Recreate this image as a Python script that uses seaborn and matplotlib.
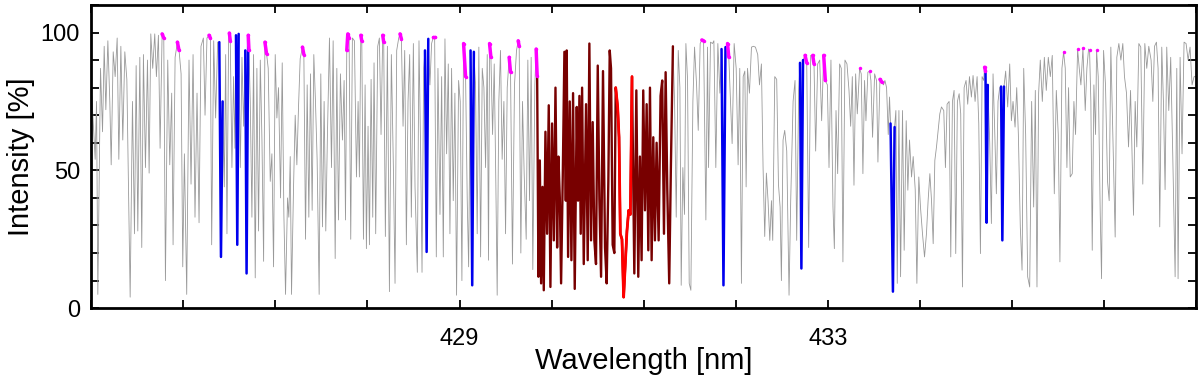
import numpy as np
import pandas as pd
import seaborn as sns
import matplotlib.pyplot as plt
from matplotlib.ticker import FixedLocator, MultipleLocator

# spectrum vertices (nm, %)
wavelength = [
    425.007, 425.043, 425.058, 425.072, 425.101, 425.123, 425.141, 425.159, 425.181, 425.202,
    425.217, 425.239, 425.260, 425.282, 425.300, 425.322, 425.343, 425.365, 425.387, 425.423,
    425.448, 425.470, 425.488, 425.506, 425.528, 425.549, 425.567, 425.589, 425.611, 425.629,
    425.647, 425.668, 425.690, 425.708, 425.730, 425.748, 425.770, 425.788, 425.806, 425.831,
    425.853, 425.874, 425.889, 425.911, 425.936, 425.954, 425.976, 425.994, 426.012,
    426.037, 426.062, 426.084, 426.106, 426.127, 426.149, 426.171, 426.192, 426.218, 426.236,
    426.257, 426.279, 426.294, 426.308, 426.330, 426.351, 426.373, 426.391, 426.409, 426.427,
    426.445, 426.460, 426.474, 426.492, 426.500, 426.510, 426.528, 426.546, 426.561, 426.572,
    426.586, 426.601, 426.619, 426.637, 426.655, 426.673, 426.687, 426.705, 426.713, 426.727,
    426.745, 426.763, 426.781, 426.799, 426.817, 426.836, 426.854, 426.872, 426.886, 426.904,
    426.922, 426.944, 426.962, 426.980, 426.998, 427.016, 427.034, 427.056, 427.074, 427.092,
    427.110,
    427.132, 427.146, 427.161, 427.175, 427.197, 427.215, 427.233, 427.251, 427.269, 427.294,
    427.309, 427.327, 427.345, 427.363, 427.381, 427.399, 427.417, 427.435, 427.453, 427.475,
    427.493, 427.511, 427.529, 427.547, 427.565, 427.587, 427.609, 427.627, 427.649, 427.667,
    427.685, 427.706, 427.728, 427.746, 427.761, 427.775, 427.786, 427.800, 427.818, 427.836,
    427.858, 427.880, 427.898, 427.912, 427.927, 427.938, 427.956, 427.974, 427.988, 428.006,
    428.021, 428.039, 428.057, 428.071, 428.089, 428.111, 428.129, 428.147, 428.165, 428.176,
    428.194,
    428.216, 428.238, 428.259, 428.281, 428.299, 428.317, 428.339, 428.353, 428.368, 428.386,
    428.404, 428.422, 428.440, 428.458, 428.476, 428.498, 428.516, 428.541, 428.559, 428.577,
    428.592, 428.610, 428.624, 428.642, 428.660, 428.678, 428.696, 428.714, 428.729, 428.747,
    428.765, 428.787, 428.805, 428.823, 428.841, 428.859, 428.877, 428.895, 428.913, 428.931,
    428.949, 428.967, 428.989, 429.007, 429.025, 429.043, 429.065, 429.083, 429.098, 429.119,
    429.137, 429.155, 429.173, 429.191, 429.209, 429.228, 429.246, 429.264,
    429.282, 429.300, 429.314, 429.325, 429.340, 429.358, 429.376, 429.394, 429.408, 429.426,
    429.444, 429.462, 429.481, 429.499, 429.517, 429.538, 429.553, 429.574, 429.596, 429.618,
    429.636, 429.647, 429.665, 429.683, 429.701, 429.723, 429.741, 429.759, 429.777, 429.795,
    429.817, 429.831, 429.842,
    429.856, 429.871, 429.885, 429.900, 429.914, 429.932, 429.950, 429.968, 429.986, 430.004,
    430.023, 430.041, 430.059, 430.073, 430.088, 430.102, 430.120, 430.138, 430.153, 430.163,
    430.178, 430.196, 430.214, 430.232, 430.250, 430.272, 430.286, 430.301, 430.315, 430.330,
    430.348, 430.373, 430.391, 430.409, 430.427, 430.445, 430.463, 430.481, 430.500, 430.518,
    430.536, 430.557, 430.579, 430.597, 430.615, 430.630, 430.644, 430.662, 430.680, 430.695,
    430.716, 430.731, 430.745, 430.763, 430.781, 430.799, 430.817, 430.836, 430.854, 430.872,
    430.897, 430.919, 430.940, 430.958, 430.976, 430.994, 431.013, 431.031, 431.049, 431.067,
    431.085, 431.103, 431.121, 431.139, 431.161, 431.182, 431.200, 431.219, 431.237, 431.255,
    431.276, 431.294, 431.316,
    431.334, 431.352, 431.374, 431.392, 431.406, 431.424, 431.442,
    431.457, 431.475, 431.493, 431.511, 431.533, 431.551, 431.573, 431.591, 431.612, 431.630,
    431.649, 431.674, 431.692, 431.703, 431.724, 431.746, 431.761, 431.782, 431.804, 431.826,
    431.844, 431.865, 431.887, 431.909, 431.923, 431.941, 431.959, 431.981, 432.003, 432.024,
    432.042, 432.060, 432.079, 432.097, 432.111, 432.126, 432.147, 432.169, 432.190, 432.212,
    432.237, 432.256, 432.277, 432.295, 432.313, 432.331, 432.349, 432.368, 432.386, 432.400,
    432.422, 432.443, 432.462, 432.480, 432.494, 432.512, 432.530,
    432.552, 432.577, 432.595, 432.621, 432.642, 432.660, 432.682, 432.696, 432.711, 432.729,
    432.751, 432.769, 432.790, 432.812, 432.834, 432.848, 432.866, 432.888, 432.910, 432.931,
    432.953, 432.971, 432.993, 433.011, 433.032, 433.054, 433.069, 433.087, 433.105, 433.126,
    433.144, 433.162, 433.184, 433.206, 433.228, 433.246, 433.264, 433.282, 433.300, 433.318,
    433.343, 433.361, 433.379, 433.397, 433.412, 433.433, 433.452, 433.466, 433.484, 433.506,
    433.527, 433.542, 433.564, 433.585, 433.603,
    433.618, 433.636, 433.654, 433.668, 433.679, 433.705, 433.723, 433.737, 433.752, 433.770,
    433.788, 433.809, 433.827, 433.849, 433.867, 433.885, 433.907, 433.925, 433.947, 433.965,
    433.986, 434.004, 434.026, 434.048, 434.069, 434.087, 434.106, 434.124, 434.142, 434.160,
    434.178, 434.196, 434.214, 434.232, 434.257, 434.275, 434.293, 434.315, 434.333, 434.351,
    434.369, 434.387, 434.405, 434.424, 434.441, 434.460, 434.478, 434.499, 434.517, 434.536,
    434.557, 434.575, 434.597, 434.619, 434.637, 434.655, 434.673, 434.691, 434.700, 434.710,
    434.722, 434.735,
    434.756, 434.774, 434.792, 434.810, 434.828, 434.846, 434.864, 434.879, 434.893, 434.911,
    434.929, 434.951, 434.973, 434.991, 435.009, 435.031, 435.049, 435.067, 435.088, 435.107,
    435.125, 435.146, 435.168, 435.190, 435.211, 435.233, 435.251, 435.269, 435.287, 435.305,
    435.327, 435.349, 435.370, 435.392, 435.414, 435.435, 435.457, 435.479, 435.500, 435.518,
    435.540, 435.558, 435.576, 435.594, 435.612, 435.630, 435.652, 435.670, 435.688, 435.710,
    435.728, 435.746, 435.768,
    435.793, 435.811, 435.829, 435.840, 435.854, 435.869, 435.887, 435.905, 435.916, 435.934,
    435.956, 435.970, 435.992, 436.013, 436.035, 436.053, 436.071, 436.093, 436.118, 436.136,
    436.158, 436.180, 436.201, 436.219, 436.241, 436.263, 436.285, 436.317, 436.335, 436.353,
    436.375, 436.396, 436.418, 436.440, 436.461, 436.483, 436.508, 436.527, 436.545, 436.566,
    436.584, 436.602, 436.624, 436.642, 436.660, 436.678, 436.700, 436.721, 436.743, 436.769,
    436.787, 436.801, 436.823, 436.844, 436.866, 436.888, 436.910, 436.931, 436.953, 436.975,
    436.990,
]
intensity = [
    77, 54, 75, 5, 87, 64, 95, 72, 97, 75,
    52, 93, 84, 98, 54, 95, 61, 93, 83, 4,
    75, 27, 88, 28, 91, 22, 92, 51, 90, 49,
    99.5, 87, 99.5, 84, 99, 58, 99.5, 98, 10, 90,
    52, 78, 23, 91, 96.5, 93.5, 85, 15, 56,
    5, 90, 45, 92, 33, 78, 31, 95, 98, 70,
    98, 99, 98, 23, 97, 69, 96.5, 96.5, 18.6, 75,
    44, 92, 27, 98, 99.8, 97, 51, 84, 58, 99,
    23, 99.5, 51, 91, 66, 93.5, 12.6, 99, 93.5, 75,
    33, 92, 11, 87, 28, 90, 61, 17, 96.5, 92.3,
    87, 46, 56, 15, 92, 69, 80, 40, 89, 34,
    5,
    40, 33, 55, 5, 44, 70, 52, 73, 90.5, 94.7,
    92, 25, 81, 33, 85, 35.5, 92, 75, 54, 5,
    85, 29.5, 75, 28, 63, 98, 51, 97, 18, 87,
    32, 85, 61, 82.6, 32, 93.5, 99.5, 98, 25, 98,
    97, 47.6, 75, 47.6, 99, 97, 25, 81, 21.6, 66,
    23, 83, 33, 89, 27, 95, 98, 63, 99, 96.5,
    26,
    95, 6, 92, 51, 9, 93.5, 98, 99.5, 97.7, 66,
    93.5, 23, 75, 92, 33, 96, 44, 13, 97, 57,
    13, 87, 93.5, 20.4, 97.7, 81, 96, 98.3, 98.3, 18.6,
    87, 34, 84, 18.6, 97.7, 56, 88.6, 27, 87, 39,
    78, 4.7, 82.6, 75, 10, 96, 84, 39, 15, 93.5,
    8.3, 93, 81, 27, 94.7, 18.6, 87, 80,
    51, 92, 17.4, 96, 91, 63, 88.6, 44, 4.7, 75,
    93.5, 54, 75, 27, 80, 91, 85.6, 16, 81, 93.5,
    97, 95, 20, 75, 49, 25, 90, 39, 91, 14,
    81, 94, 84.4,
    11.4, 53.6, 9, 44, 6.5, 64, 27, 73.6, 7.7, 67,
    24.6, 80, 22, 55, 40, 9, 47.6, 93, 39, 93.5,
    18.6, 75, 17.4, 78, 7, 73, 39, 77, 27, 80,
    16, 74, 17.4, 96, 24.6, 67.5, 24.6, 16, 88, 39,
    11.4, 86, 22, 9, 46, 93.5, 87, 23, 20, 80,
    73, 62, 27, 25, 4, 16, 28, 35.5, 34, 84,
    12.6, 79, 11.4, 55, 17.4, 79, 35.5, 74, 21, 80,
    17.4, 62, 24.6, 60, 24.6, 77, 82.6, 27, 85.6, 43,
    9, 51, 95,
    75, 33, 93.5, 80, 8.3, 51, 34,
    96, 83, 9, 6.5, 75, 94.7, 81, 64.5, 96, 97.3,
    97, 32, 94.7, 51, 96.5, 96, 97, 51, 96, 78,
    94, 8.3, 94.7, 96, 91, 75, 59.7, 96, 87, 52,
    87, 9, 84, 86, 44, 87, 78, 94.7, 95, 94.7,
    92, 81, 88.6, 51, 26, 49, 39, 24.6, 39, 24.6,
    84, 83, 45, 36.7, 10, 61, 64.5,
    57, 4.7, 39, 75, 82.6, 24.6, 79, 89, 14.4, 90,
    91.7, 89, 22, 91.7, 91.7, 88.6, 57, 88.6, 90, 68,
    91.7, 82.6, 81, 51, 90, 36.7, 21.6, 71.7, 48.8, 88.6,
    87, 16.8, 90, 88.6, 79, 66, 84, 44.6, 85, 70.5,
    87, 85, 48.8, 82.6, 68, 85.6, 86, 82.6, 62, 85,
    82.6, 53, 83, 82, 81,
    82.6, 80, 63, 76.6, 67, 6, 65.7, 71.7, 9, 71.7,
    11.4, 71.7, 21, 68, 42.8, 61, 47.6, 55, 43, 9,
    47.6, 36.7, 27, 18.6, 27, 39, 48.8, 39, 23.4, 53.6,
    58.5, 64.5, 70.5, 73, 71.7, 51, 74, 75, 18.6, 75,
    79, 19.8, 75, 77.8, 70.5, 7.7, 80, 82.6, 74, 84,
    76.6, 84.4, 75, 84, 67, 19.8, 84, 82.6, 87.4, 86,
    31, 81,
    60, 30.7, 85, 64.5, 41.5, 75, 80, 80.4, 24.6, 80.4,
    86, 73, 88.6, 68, 75, 65.7, 80, 63, 29.5, 13.8,
    87, 63, 11.4, 7.7, 75, 36.7, 79, 7.7, 78, 90,
    75, 91, 79, 91, 84, 91.7, 41.5, 79, 63, 16.8,
    87, 93, 87, 51, 80, 47.6, 48.8, 75, 63, 94,
    87, 81, 94.4,
    71.7, 87, 94, 93.5, 75, 21, 81, 63, 93.5, 84,
    34, 10.7, 93.5, 81, 46, 39, 94.7, 63, 25.8, 91,
    96, 90, 96, 84, 78, 58.5, 79, 33.7, 75, 58.5,
    96, 94.7, 45, 96, 87, 95, 90, 75, 95, 96.5,
    87, 29.5, 94.7, 75, 43, 94.7, 71.7, 91, 56, 11.4,
    87, 10.7, 91, 56, 96.5, 96, 90, 94.7, 81, 84,
    84,
]

# highlighted parts of the spectrum (nm)
gband_range = (429.842, 431.316)
core_range = (430.695, 430.872)
blue_lines = [
    (426.391, 426.427), (426.572, 426.601), (426.673, 426.705),
    (428.624, 428.660), (429.119, 429.155), (431.844, 431.887),
    (432.696, 432.729), (433.679, 433.723), (434.710, 434.735),
    (434.879, 434.911),
]
continuum_points = [
    (425.770, 425.788), (425.936, 425.954), (426.279, 426.294), (426.500, 426.510),
    (426.705, 426.713), (426.886, 426.904), (427.294, 427.309), (427.775, 427.800),
    (427.927, 427.938), (428.165, 428.176), (428.353, 428.368), (428.714, 428.729),
    (429.043, 429.065), (429.325, 429.340), (429.538, 429.553), (429.636, 429.647),
    (429.831, 429.842), (431.630, 431.649), (431.909, 431.923), (432.751, 432.769),
    (432.834, 432.848), (432.953, 432.971), (433.343, 433.343), (433.452, 433.452),
    (433.564, 433.585), (434.700, 434.710), (435.558, 435.558), (435.710, 435.710),
    (435.768, 435.768), (435.840, 435.840), (435.916, 435.916),
]

sns.set_style("ticks")
plt.rcParams['font.family'] = ['Liberation Sans', 'DejaVu Sans']

spec = pd.DataFrame({"wl": wavelength, "I": intensity})


def piece(lo, hi):
    return spec[(spec.wl >= lo - 1e-6) & (spec.wl <= hi + 1e-6)]


fig, ax = plt.subplots(figsize=(12, 3.8), dpi=100)
fig.subplots_adjust(left=0.076, right=0.997, bottom=0.189, top=0.987)

sns.lineplot(data=spec, x="wl", y="I", estimator=None, sort=False,
             color="#999999", lw=0.6, ax=ax)
sns.lineplot(data=piece(*gband_range), x="wl", y="I", estimator=None, sort=False,
             color="#780000", lw=1.7, ax=ax)
sns.lineplot(data=piece(*core_range), x="wl", y="I", estimator=None, sort=False,
             color="#ff0000", lw=2, ax=ax)
for lo, hi in blue_lines:
    sns.lineplot(data=piece(lo, hi), x="wl", y="I", estimator=None, sort=False,
                 color="#0000ee", lw=1.8, ax=ax)
for lo, hi in continuum_points:
    sns.lineplot(data=piece(lo, hi), x="wl", y="I", estimator=None, sort=False,
                 color="#ff00ff", lw=2.5, marker="o", markersize=2.5,
                 markeredgewidth=0, ax=ax)

ax.set_xlim(425, 437)
ax.set_ylim(0, 110)
ax.xaxis.set_major_locator(FixedLocator([429, 433]))
ax.xaxis.set_minor_locator(MultipleLocator(1))
ax.yaxis.set_major_locator(FixedLocator([0, 50, 100]))
ax.yaxis.set_minor_locator(MultipleLocator(10))
ax.tick_params(which="both", direction="in", top=True, right=True,
               width=1.3, length=6, labelsize=17, colors="black")
ax.tick_params(axis="x", pad=14)
ax.tick_params(axis="y", pad=8)
for s in ax.spines.values():
    s.set_linewidth(2)
    s.set_color("black")

ax.set_xlabel("Wavelength [nm]", fontsize=21, labelpad=-2, color="black")
ax.set_ylabel("Intensity [%]", fontsize=21, labelpad=4, color="black")

fig.savefig("out.png", dpi=100)
